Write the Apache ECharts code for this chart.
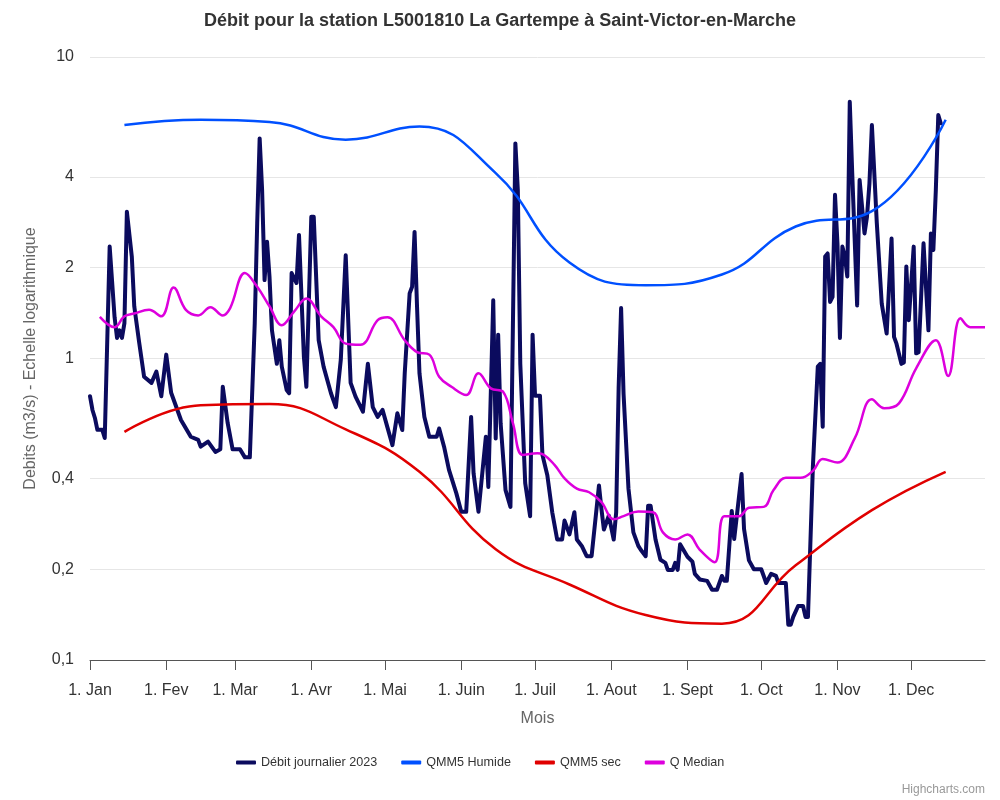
<!DOCTYPE html>
<html>
<head>
<meta charset="utf-8">
<script src="https://cdn.jsdelivr.net/npm/echarts@6/dist/echarts.min.js"></script>
<style>
html,body{margin:0;padding:0;background:#fff;}
#chart{width:1000px;height:800px;}
</style>
</head>
<body>
<div id="chart"></div>
<script>
// X axis: day index in 2023 (0 = 1 Jan). Month starts and their labels.
const monthStartDays = [0, 31, 59, 90, 120, 151, 181, 212, 243, 273, 304, 334];
const monthLabels = ['1. Jan', '1. Fev', '1. Mar', '1. Avr', '1. Mai', '1. Juin', '1. Juil', '1. Aout', '1. Sept', '1. Oct', '1. Nov', '1. Dec'];
const yTickValues = [0.1, 0.2, 0.4, 1, 2, 4, 10];

// Débit journalier 2023 (day index, m3/s)
const debitDays = [0,1,2,3,5,6,8,10,11,12,13,14,15,17,18,20,22,25,27,29,31,33,37,41,44,45,48,51,53,54,56,58,61,
  63,65,67,68,69,70,71,72,73,74,76,77,78,80,81,82,84,85,87,88,90,91,93,95,98,100,102,104,106,108,111,113,115,117,119,
  121,123,125,127,128,130,131,132,133,134,136,138,141,142,144,146,149,151,153,155,156,158,161,162,164,165,166,167,169,171,173,174,175,177,
  179,180,181,183,184,186,188,190,192,193,195,197,198,200,202,204,207,208,209,211,213,214,215,216,217,219,221,223,224,226,227,228,230,232,234,235,237,238,239,
  240,243,245,246,248,251,253,255,257,258,259,261,262,265,266,268,270,273,274,275,277,279,280,283,284,285,286,288,290,291,292,
  294,296,297,298,299,300,301,302,303,304,305,306,307,308,309,310,312,313,315,316,317,318,320,322,324,326,327,328,330,331,332,333,335,336,337,339,341,342,343,344,345,346];
const debitValues = [0.75,0.675,0.635,0.58,0.58,0.545,2.35,1.37,1.17,1.24,1.17,1.31,3.07,2.18,1.49,1.13,0.87,0.83,0.905,0.75,1.03,0.77,0.625,0.55,0.537,0.51,0.53,0.49,0.50,0.806,0.61,0.50,0.50,
  0.47,0.47,1.31,2.81,5.37,3.62,1.82,2.44,1.87,1.24,0.96,1.15,0.94,0.786,0.767,1.92,1.78,2.57,1.01,0.806,2.95,2.95,1.15,0.94,0.767,0.69,0.99,2.2,0.83,0.747,0.666,0.96,0.69,0.64,0.675,
  0.59,0.516,0.658,0.579,0.893,1.645,1.73,2.63,1.49,0.893,0.64,0.55,0.55,0.586,0.51,0.427,0.357,0.31,0.31,0.64,0.416,0.31,0.55,0.375,1.56,0.543,1.2,0.61,0.366,0.322,5.17,3.62,0.96,0.386,
  0.30,1.2,0.753,0.753,0.479,0.41,0.309,0.251,0.251,0.29,0.261,0.309,0.251,0.239,0.221,0.221,0.379,0.317,0.271,0.301,0.251,0.309,0.80,1.47,0.763,0.37,0.265,0.239,0.232,0.221,0.325,0.325,0.251,0.215,0.21,0.199,0.199,0.21,0.199,
  0.242,0.22,0.212,0.193,0.185,0.183,0.171,0.171,0.19,0.183,0.183,0.312,0.252,0.414,0.272,0.214,0.2,0.2,0.19,0.18,0.193,0.19,0.18,0.18,0.131,0.131,0.139,0.151,0.151,0.139,0.139,
  0.438,0.94,0.96,0.594,2.18,2.23,1.54,1.6,3.49,2.4,1.17,2.35,2.18,1.87,7.1,4.12,1.5,3.91,2.6,2.95,3.81,5.95,2.81,1.52,1.21,2.5,1.18,1.12,0.96,0.97,2.02,1.34,2.35,1.04,1.05,2.41,1.24,2.6,2.29,3.62,6.42,6.03];

// Monthly references at the 15th of each month
const monthMidDays = [14, 45, 73, 104, 134, 165, 195, 226, 257, 287, 318, 348];
const qmm5Humide = [5.95, 6.19, 6.09, 5.32, 5.88, 4.12, 2.08, 1.75, 1.90, 2.74, 3.08, 6.19];
const qmm5Sec = [0.571, 0.70, 0.706, 0.582, 0.421, 0.233, 0.178, 0.141, 0.132, 0.206, 0.314, 0.421];

// Q Median (day index, m3/s)
const medianDays = [4,10,14,18,24,29,34,39,44,49,54,57,63,68,73,78,83,88,94,99,104,110,117,121,128,133,138,142,147,153,158,163,168,172,176,182,
  184,189,193,198,203,208,213,217,223,229,233,238,243,248,254,258,264,268,274,278,283,289,294,298,304,311,318,323,329,336,344,349,354,358,364];
const medianValues = [1.375,1.27,1.38,1.41,1.45,1.38,1.72,1.45,1.39,1.48,1.39,1.47,1.92,1.73,1.49,1.29,1.43,1.58,1.38,1.27,1.12,1.11,1.34,1.37,1.15,1.05,1.03,0.87,0.806,0.757,0.893,0.796,0.776,0.61,0.479,0.485,
  0.482,0.443,0.40,0.37,0.36,0.334,0.293,0.30,0.311,0.309,0.265,0.251,0.261,0.232,0.211,0.30,0.30,0.32,0.322,0.366,0.402,0.402,0.424,0.464,0.452,0.543,0.732,0.684,0.71,0.928,1.15,0.875,1.36,1.27,1.27];

const zip = (xs, ys) => xs.map((x, i) => [x, ys[i]]);

const chart = echarts.init(document.getElementById('chart'), null, {renderer: 'canvas'});
const FONT = '"Liberation Sans", Arial, Helvetica, sans-serif';
chart.setOption({
  animation: false,
  backgroundColor: '#ffffff',
  textStyle: {fontFamily: FONT},
  title: {
    text: 'Débit pour la station L5001810 La Gartempe à Saint-Victor-en-Marche',
    left: 'center', top: 7,
    textStyle: {fontSize: 18, fontWeight: 'bold', color: '#333333', fontFamily: FONT}
  },
  legend: {
    left: 231, top: 751, itemGap: 24, itemWidth: 20, itemHeight: 4,
    icon: 'roundRect',
    textStyle: {fontSize: 12.6, color: '#333333', fontFamily: FONT},
    data: ['Débit journalier 2023', 'QMM5 Humide', 'QMM5 sec', 'Q Median']
  },
  grid: {left: 90, right: 15, top: 57, bottom: 140, containLabel: false},
  xAxis: {
    type: 'value', min: 0, max: 364,
    name: 'Mois', nameLocation: 'middle', nameGap: 51,
    nameTextStyle: {fontSize: 16, color: '#666666', fontFamily: FONT},
    axisLine: {show: true, lineStyle: {color: '#555555', width: 1}},
    axisTick: {show: true, length: 10, customValues: monthStartDays, lineStyle: {color: '#555555'}},
    axisLabel: {
      customValues: monthStartDays, margin: 23, fontSize: 16, color: '#333333', fontFamily: FONT,
      formatter: (v) => monthLabels[monthStartDays.indexOf(Math.round(v))] || ''
    },
    splitLine: {show: false}
  },
  yAxis: {
    type: 'log', logBase: 10, min: 0.1, max: 10,
    name: 'Debits (m3/s) - Echelle logarithmique', nameLocation: 'middle', nameGap: 51, nameRotate: 90,
    nameTextStyle: {fontSize: 16, color: '#666666', fontFamily: FONT},
    axisLine: {show: false},
    axisTick: {show: false, customValues: yTickValues},
    axisLabel: {
      customValues: yTickValues, margin: 16, fontSize: 16, color: '#333333', fontFamily: FONT,
      formatter: (v) => String(+(+v).toPrecision(3)).replace('.', ',')
    },
    splitLine: {show: true, lineStyle: {color: '#e6e6e6', width: 1}}
  },
  series: [
    {
      name: 'Débit journalier 2023', type: 'line', data: zip(debitDays, debitValues),
      showSymbol: false, symbol: 'none', smooth: false,
      lineStyle: {color: '#0b0b5e', width: 4, join: 'round', cap: 'round'},
      itemStyle: {color: '#0b0b5e'}
    },
    {
      name: 'QMM5 Humide', type: 'line', data: zip(monthMidDays, qmm5Humide),
      showSymbol: false, symbol: 'none', smooth: 0.45,
      lineStyle: {color: '#0050ff', width: 2.5},
      itemStyle: {color: '#0050ff'}
    },
    {
      name: 'QMM5 sec', type: 'line', data: zip(monthMidDays, qmm5Sec),
      showSymbol: false, symbol: 'none', smooth: 0.45,
      lineStyle: {color: '#e00000', width: 2.5},
      itemStyle: {color: '#e00000'}
    },
    {
      name: 'Q Median', type: 'line', data: zip(medianDays, medianValues),
      showSymbol: false, symbol: 'none', smooth: 0.4,
      lineStyle: {color: '#dd00dd', width: 2.5},
      itemStyle: {color: '#dd00dd'}
    }
  ],
  graphic: [{
    type: 'text', right: 15, bottom: 4,
    style: {text: 'Highcharts.com', fontSize: 12, fill: '#999999', fontFamily: FONT}
  }]
});
</script>
</body>
</html>
